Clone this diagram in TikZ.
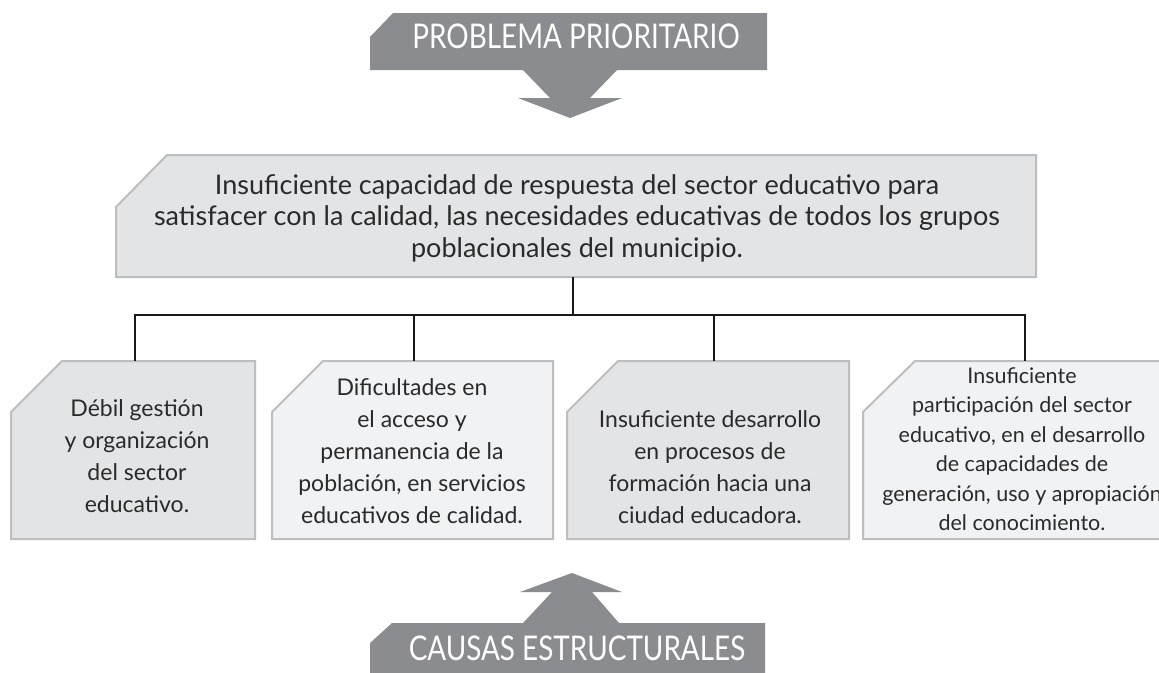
\documentclass[tikz,border=0pt]{standalone}
\usepackage{fontspec}
\setmainfont{Lato}
\definecolor{bannergray}{HTML}{8B8C8F}
\definecolor{boxdark}{HTML}{E3E4E6}
\definecolor{boxlight}{HTML}{F1F2F4}
\definecolor{edgegray}{HTML}{BDBEC0}
\definecolor{txt}{HTML}{2A2A2A}
\tikzset{
  banner/.style={fill=bannergray, draw=none},
  boxshape/.style={draw=edgegray, line width=2pt, line join=miter},
  bannertext/.style={text=white, inner sep=0pt, font=\fontsize{34}{38}\selectfont},
  maintext/.style={text=txt, align=center, inner sep=0pt, font=\fontsize{27}{31.5}\selectfont},
  boxtext/.style={text=txt, align=center, inner sep=0pt, font=\fontsize{23}{32}\selectfont},
  smalltext/.style={text=txt, align=center, inner sep=0pt, font=\fontsize{21.5}{29.5}\selectfont},
  link/.style={draw=black!90, line width=1.2pt}
}
\begin{document}
\begin{tikzpicture}[x=1pt,y=-1pt]
\clip (0,0) rectangle (1159,672);
\fill[white] (0,0) rectangle (1159,672);
% top banner
\fill[banner] (393,13) -- (767,13) -- (767,70) -- (617,70) -- (590,98) -- (622,98)
  -- (570,118) -- (518,98) -- (550,98) -- (523,70) -- (370,70) -- (370,37) -- cycle;
\node[bannertext] (ptitle) at (576,36) {\scalebox{0.82}[1]{PROBLEMA PRIORITARIO}};
% bottom banner
\fill[banner] (572,573) -- (622,592) -- (592,592) -- (619,623) -- (765,623) -- (765,680)
  -- (370,680) -- (370,643) -- (392,623) -- (523,623) -- (552,592) -- (520,592) -- cycle;
\node[bannertext] (ctitle) at (577,648) {\scalebox{0.82}[1]{CAUSAS ESTRUCTURALES}};
% main box
\filldraw[boxshape, fill=boxdark] (167,155) -- (1036,155) -- (1036,277) -- (116,277) -- (116,207) -- cycle;
\node[maintext] (main) at (577,218) {Insuficiente capacidad de respuesta del sector educativo para\\
satisfacer con la calidad, las necesidades educativas de todos los grupos\\
poblacionales del municipio.};
% cause boxes
\filldraw[boxshape, fill=boxdark] (62,361) -- (255,361) -- (255,539) -- (11,539) -- (11,412) -- cycle;
\filldraw[boxshape, fill=boxlight] (323,361) -- (553,361) -- (553,539) -- (272,539) -- (272,412) -- cycle;
\filldraw[boxshape, fill=boxdark] (618,361) -- (849,361) -- (849,539) -- (567,539) -- (567,412) -- cycle;
\filldraw[boxshape, fill=boxlight] (915,361) -- (1190,361) -- (1190,539) -- (863,539) -- (863,412) -- cycle;
\node[boxtext] (c1) at (137,456) {Débil gestión\\y organización\\del sector\\educativo.};
\node[boxtext] (c2) at (412,451) {Dificultades en\\el acceso y\\permanencia de la\\población, en servicios\\educativos de calidad.};
\node[boxtext] (c3) at (710,467) {Insuficiente desarrollo\\en procesos de\\formación hacia una\\ciudad educadora.};
\node[smalltext] (c4) at (1022,449) {Insuficiente\\participación del sector\\educativo, en el desarrollo\\de capacidades de\\generación, uso y apropiación\\del conocimiento.};
% connectors
\coordinate (mainbot) at (573,277);
\coordinate (hub) at (573,315);
\coordinate (t1) at (135,361);
\coordinate (t2) at (414,361);
\coordinate (t3) at (714,361);
\coordinate (t4) at (1025,361);
\draw[link] (mainbot) -- (hub);
\draw[link] (t1) |- (hub);
\draw[link] (t2) |- (hub);
\draw[link] (t3) |- (hub);
\draw[link] (t4) |- (hub);
\end{tikzpicture}
\end{document}
